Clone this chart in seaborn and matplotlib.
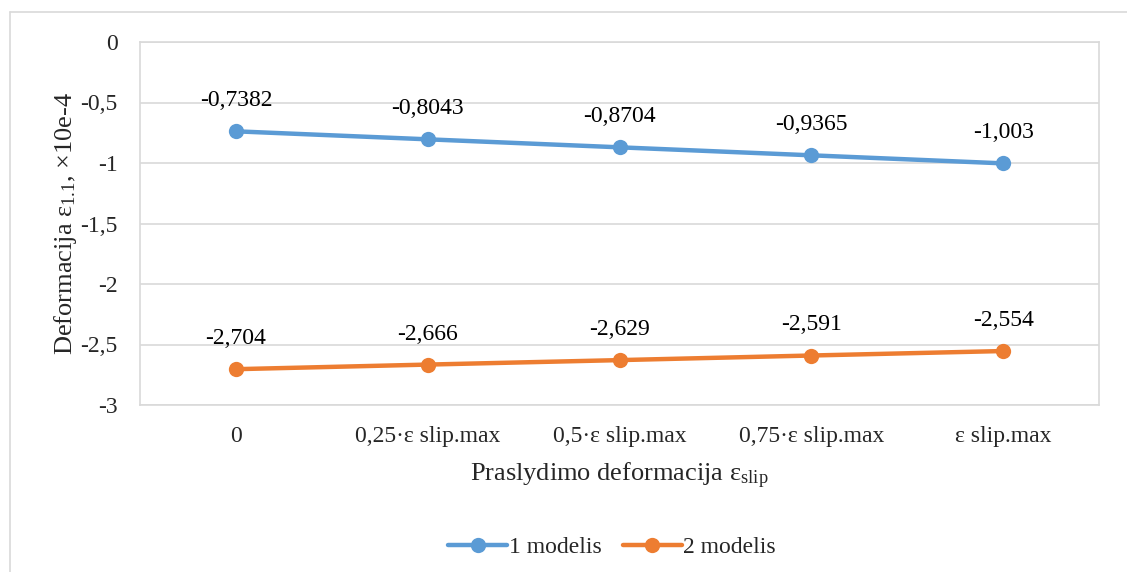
import matplotlib
matplotlib.use("Agg")
import matplotlib.pyplot as plt
import numpy as np
import pandas as pd
import seaborn as sns

categories = ["0", "0,25·ε slip.max", "0,5·ε slip.max", "0,75·ε slip.max", "ε slip.max"]
model1 = [-0.7382, -0.8043, -0.8704, -0.9365, -1.003]
model2 = [-2.704, -2.666, -2.629, -2.591, -2.554]
series_names = ["1 modelis", "2 modelis"]
colors = ["#5B9BD5", "#ED7D31"]

sns.set_theme(style="white")
plt.rcParams["font.family"] = ["Liberation Serif", "DejaVu Serif"]
plt.rcParams["mathtext.fontset"] = "custom"
plt.rcParams["mathtext.rm"] = "Liberation Serif"
plt.rcParams["mathtext.it"] = "Liberation Serif:italic"

df = pd.DataFrame({
    "x": list(range(len(categories))) * 2,
    "y": model1 + model2,
    "series": [series_names[0]] * len(model1) + [series_names[1]] * len(model2),
})

fig = plt.figure(figsize=(11.27, 5.72), dpi=100)
ax = fig.add_axes([140 / 1127, 1 - 405 / 572, (1099 - 140) / 1127, (405 - 42) / 572])

sns.lineplot(data=df, x="x", y="y", hue="series", palette=colors, marker="o",
             markersize=11, markeredgewidth=0, linewidth=3.2, ax=ax, legend=True)

fs = 17
for vals, c in zip([model1, model2], colors):
    for i, v in enumerate(vals):
        ax.annotate(f"{v:g}".replace(".", ","), (i, v), xytext=(0, 22),
                    textcoords="offset points", ha="center", va="center",
                    fontsize=fs, color="black")

ax.set_xlim(-0.5, len(categories) - 0.5)
ax.set_ylim(-3, 0)
ax.set_yticks(np.arange(-3, 0.01, 0.5))
ax.set_yticklabels([f"{t:g}".replace(".", ",") for t in np.arange(-3, 0.01, 0.5)])
ax.set_xticks(range(len(categories)))
ax.set_xticklabels(categories)
ax.tick_params(axis="both", labelsize=fs, length=0)
ax.tick_params(axis="x", pad=15)
ax.tick_params(axis="y", pad=16)
ax.yaxis.grid(True, color="#d9d9d9", linewidth=1.2)
for s in ax.spines.values():
    s.set_color("#d9d9d9")
    s.set_linewidth(1.2)

ax.set_xlabel(r"Praslydimo deformacija ε$_{\mathregular{slip}}$", fontsize=19, labelpad=10)
ax.set_ylabel(r"Deformacija ε$_{\mathregular{1.1}}$, ×10e-4", fontsize=19, labelpad=1)

handles, labels = ax.get_legend_handles_labels()
ax.get_legend().remove()
fig.legend(handles, labels, loc="center", bbox_to_anchor=(0.543, 1 - 547 / 572), ncol=2,
           frameon=False, fontsize=fs, handlelength=2.5, handletextpad=0.05, columnspacing=0.9)

# outer chart border
fig.add_artist(plt.Line2D([10 / 1127, 1.0], [1 - 12 / 572] * 2, color="#d9d9d9", lw=1.2,
                          transform=fig.transFigure))
fig.add_artist(plt.Line2D([10 / 1127] * 2, [0.0, 1 - 12 / 572], color="#d9d9d9", lw=1.2,
                          transform=fig.transFigure))

fig.savefig("out.png", dpi=100)
